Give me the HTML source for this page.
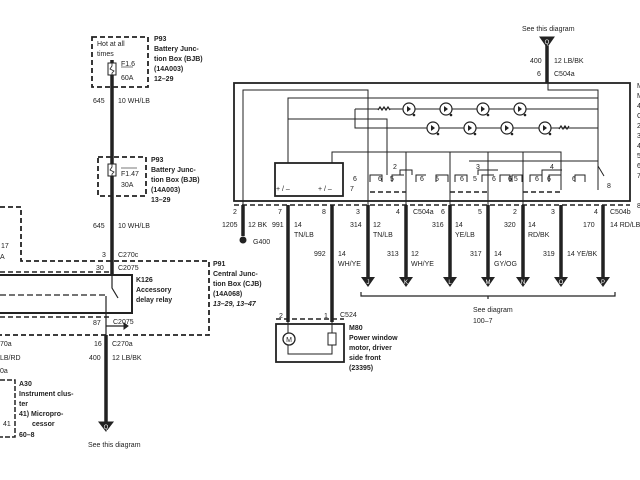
<!DOCTYPE html>
<html><head><meta charset="utf-8"><style>
html,body{margin:0;padding:0;background:#fff;}
svg{display:block}
text{font-family:"Liberation Sans",sans-serif;font-size:7px;fill:#222}
.b{font-weight:bold}
</style></head><body>
<svg width="640" height="480" viewBox="0 0 640 480" xmlns="http://www.w3.org/2000/svg">
<g fill="none" stroke="#222">
<rect x="92" y="37" width="56" height="50" stroke-width="1.8" stroke-dasharray="5,3"/>
<rect x="98" y="157" width="48" height="39" stroke-width="1.8" stroke-dasharray="5,3"/>
<line x1="112" y1="60" x2="112" y2="275" stroke-width="3.5"/>
<rect x="108" y="63" width="8" height="12" stroke-width="1" fill="#fff"/>
<path d="M112 63v3l-2 3 4 2-2 2v2" stroke-width="0.8"/>
<rect x="108" y="164" width="8" height="12" stroke-width="1" fill="#fff"/>
<path d="M112 164v3l-2 3 4 2-2 2v2" stroke-width="0.8"/>
<line x1="121" y1="67" x2="133" y2="67" stroke-width="0.6"/>
<line x1="121" y1="168" x2="137" y2="168" stroke-width="0.6"/>
<path d="M0 207H21V261H209V335H0" stroke-width="1.8" stroke-dasharray="5,3"/>
<line x1="0" y1="272" x2="112" y2="272" stroke-width="1.5" stroke-dasharray="5,3"/>
<rect x="-2" y="275" width="134" height="38" stroke-width="2"/>
<line x1="0" y1="295" x2="105" y2="295" stroke-width="1.2" stroke-dasharray="6,3"/>
<line x1="0" y1="317" x2="110" y2="317" stroke-width="1.5" stroke-dasharray="5,3"/>
<path d="M112 275v13l6 10" stroke-width="1.2"/>
<line x1="106" y1="296" x2="106" y2="335" stroke-width="1.2"/>
<path d="M106 326h20" stroke-width="1.2"/><path d="M124 323l4 3-4 3z" fill="#222"/>
<line x1="106" y1="335" x2="106" y2="425" stroke-width="3.5"/>
<path d="M99 422h14l-7 9z" fill="#222"/>
<path d="M0 380H15V437H0" stroke-width="1.5" stroke-dasharray="5,2"/>
<rect x="234" y="83" width="396" height="118" stroke-width="1.8"/>
<line x1="234" y1="205" x2="630" y2="205" stroke-width="1.5" stroke-dasharray="5,3"/>
<line x1="547" y1="45" x2="547" y2="83" stroke-width="3.5"/>
<path d="M540 37h14l-7 10z" fill="#222"/>
<path d="M548 83v7h50v76l6 10" stroke-width="1"/>
<g stroke-width="1">
<path d="M243 205V90H368V205"/>
<path d="M288 163V98H598"/>
<path d="M288 119H387V175"/>
<path d="M355 109H598M355 109V128H598"/>
<path d="M332 163V152H561V190"/>
<path d="M469 161H598V190"/>
<path d="M406 152V205M450 152V205M488 152V205M523 152V205"/>
<path d="M598 90V166"/>
</g>
<rect x="275" y="163" width="68" height="33" stroke-width="1.8"/>
<g stroke-width="1.2">
<circle cx="409" cy="109" r="6" fill="#fff"/><circle cx="446" cy="109" r="6" fill="#fff"/>
<circle cx="483" cy="109" r="6" fill="#fff"/><circle cx="520" cy="109" r="6" fill="#fff"/>
<circle cx="433" cy="128" r="6" fill="#fff"/><circle cx="470" cy="128" r="6" fill="#fff"/>
<circle cx="507" cy="128" r="6" fill="#fff"/><circle cx="545" cy="128" r="6" fill="#fff"/>
<path d="M378 110l2-3 2 3 2-3 2 3 2-3 2 3" fill="#fff"/>
<path d="M559 129l2-3 2 3 2-3 2 3 2-3" fill="#fff"/>
</g>
<g fill="#222" stroke="none">
<path d="M407 106v6l4-3z"/><path d="M444 106v6l4-3z"/><path d="M481 106v6l4-3z"/><path d="M518 106v6l4-3z"/>
<path d="M431 125v6l4-3z"/><path d="M468 125v6l4-3z"/><path d="M505 125v6l4-3z"/><path d="M543 125v6l4-3z"/>
<circle cx="414" cy="115" r="1.3"/><circle cx="451" cy="115" r="1.3"/><circle cx="488" cy="115" r="1.3"/><circle cx="525" cy="115" r="1.3"/>
<circle cx="438" cy="134" r="1.3"/><circle cx="475" cy="134" r="1.3"/><circle cx="512" cy="134" r="1.3"/><circle cx="550" cy="134" r="1.3"/>
</g>
<g stroke-width="1">
<path d="M370 182v-7h12v7M392 182v-7h12M400 175v-5h12v5M416 182v-7h10"/>
<path d="M436 182v-7h12v7M455 182v-7h12v7M478 175v-5h20M482 182v-7h12M500 182v-7h10v7"/>
<path d="M512 182v-7h10v7M530 182v-7h12v7M542 175v-5h20M549 182v-7h12v7M575 182v-7h10v7"/>
</g>
<g stroke-width="1.5" stroke-dasharray="5,3">
<line x1="370" y1="192" x2="406" y2="192"/><line x1="450" y1="192" x2="488" y2="192"/><line x1="523" y1="192" x2="561" y2="192"/>
</g>
<g stroke-width="3.5">
<line x1="243" y1="205" x2="243" y2="236"/>
<line x1="288" y1="205" x2="288" y2="322"/>
<line x1="332" y1="205" x2="332" y2="322"/>
<line x1="368" y1="205" x2="368" y2="277"/><line x1="406" y1="205" x2="406" y2="277"/>
<line x1="450" y1="205" x2="450" y2="277"/><line x1="488" y1="205" x2="488" y2="277"/>
<line x1="523" y1="205" x2="523" y2="277"/><line x1="561" y1="205" x2="561" y2="277"/>
<line x1="603" y1="205" x2="603" y2="277"/>
</g>
<circle cx="243" cy="240" r="3" fill="#222"/>
<g fill="#222" stroke="none">
<path d="M361 277h14l-7 10z"/><path d="M399 277h14l-7 10z"/><path d="M443 277h14l-7 10z"/>
<path d="M481 277h14l-7 10z"/><path d="M516 277h14l-7 10z"/><path d="M554 277h14l-7 10z"/><path d="M596 277h14l-7 10z"/>
</g>
<path d="M361 292v4h254v-4M488 296v3" stroke-width="1.2"/>
<line x1="276" y1="319" x2="344" y2="319" stroke-width="1.5" stroke-dasharray="5,3"/>
<rect x="276" y="324" width="68" height="38" stroke-width="1.8"/>
<path d="M288 322v32h44v-32" stroke-width="1"/>
<circle cx="289" cy="339" r="6" fill="#fff" stroke-width="1.3"/>
<rect x="328" y="333" width="8" height="12" fill="#fff" stroke-width="1"/>
</g>
<g text-anchor="middle">
<text x="289" y="342" style="fill:#222;font-size:7px">M</text>
<text x="547" y="44" style="fill:#fff;font-size:6px">Q</text>
<text x="106" y="429" style="fill:#fff;font-size:6px">Q</text>
<text x="368" y="284" style="fill:#fff;font-size:6px">J</text><text x="406" y="284" style="fill:#fff;font-size:6px">K</text>
<text x="450" y="284" style="fill:#fff;font-size:6px">L</text><text x="488" y="284" style="fill:#fff;font-size:6px">M</text>
<text x="523" y="284" style="fill:#fff;font-size:6px">N</text><text x="561" y="284" style="fill:#fff;font-size:6px">O</text>
<text x="603" y="284" style="fill:#fff;font-size:6px">P</text>
</g>
<text x="97" y="46">Hot at all</text><text x="97" y="56">times</text>
<text x="121" y="66">F1.6</text><text x="121" y="80">60A</text>
<g class="b"><text x="154" y="41">P93</text><text x="154" y="51">Battery Junc-</text><text x="154" y="61">tion Box (BJB)</text><text x="154" y="71">(14A003)</text><text x="154" y="81">12–29</text></g>
<text x="93" y="103">645</text><text x="118" y="103">10 WH/LB</text>
<text x="121" y="176">F1.47</text><text x="121" y="187">30A</text>
<g class="b"><text x="151" y="162">P93</text><text x="151" y="172">Battery Junc-</text><text x="151" y="182">tion Box (BJB)</text><text x="151" y="192">(14A003)</text><text x="151" y="202">13–29</text></g>
<text x="93" y="228">645</text><text x="118" y="228">10 WH/LB</text>
<text x="102" y="257">3</text><text x="118" y="257">C270c</text>
<text x="1" y="248">17</text><text x="0" y="259">A</text>
<text x="96" y="270">30</text><text x="118" y="270">C2075</text>
<g class="b"><text x="136" y="282">K126</text><text x="136" y="292">Accessory</text><text x="136" y="302">delay relay</text>
<text x="213" y="266">P91</text><text x="213" y="276">Central Junc-</text><text x="213" y="286">tion Box (CJB)</text><text x="213" y="296">(14A068)</text><text x="213" y="306" style="font-style:italic">13–29, 13–47</text></g>
<text x="93" y="325">87</text><text x="113" y="324">C2075</text>
<text x="94" y="346">16</text><text x="112" y="346">C270a</text>
<text x="89" y="360">400</text><text x="112" y="360">12 LB/BK</text>
<text x="0" y="346">70a</text><text x="0" y="360">LB/RD</text><text x="0" y="373">0a</text>
<g class="b"><text x="19" y="386">A30</text><text x="19" y="396">Instrument clus-</text><text x="19" y="406">ter</text><text x="19" y="416">41) Micropro-</text><text x="32" y="426">cessor</text><text x="19" y="437">60–8</text></g>
<text x="3" y="426">41</text>
<text x="88" y="447">See this diagram</text>
<text x="522" y="31">See this diagram</text>
<text x="530" y="63">400</text><text x="554" y="63">12 LB/BK</text>
<text x="537" y="76">6</text><text x="554" y="76">C504a</text>
<text x="276" y="191">+ / –</text><text x="318" y="191">+ / –</text><text x="350" y="191">7</text>
<text x="353" y="181">6</text><text x="378" y="181">6</text><text x="390" y="181">5</text><text x="393" y="169">2</text><text x="420" y="181">6</text>
<text x="435" y="181">5</text><text x="460" y="181">6</text><text x="473" y="181">5</text><text x="476" y="169">3</text><text x="492" y="181">6</text><text x="508" y="181">6 5</text>
<text x="535" y="181">6</text><text x="547" y="181">6</text><text x="550" y="169">4</text><text x="572" y="181">6</text><text x="607" y="188">8</text>
<text x="233" y="214">2</text><text x="278" y="214">7</text><text x="322" y="214">8</text><text x="356" y="214">3</text><text x="396" y="214">4</text>
<text x="413" y="214">C504a</text><text x="441" y="214">6</text><text x="478" y="214">5</text><text x="513" y="214">2</text><text x="551" y="214">3</text><text x="594" y="214">4</text><text x="610" y="214">C504b</text>
<text x="222" y="227">1205</text><text x="248" y="227">12 BK</text><text x="272" y="227">991</text><text x="294" y="227">14</text><text x="294" y="237">TN/LB</text>
<text x="350" y="227">314</text><text x="373" y="227">12</text><text x="373" y="237">TN/LB</text>
<text x="432" y="227">316</text><text x="455" y="227">14</text><text x="455" y="237">YE/LB</text>
<text x="504" y="227">320</text><text x="528" y="227">14</text><text x="528" y="237">RD/BK</text>
<text x="583" y="227">170</text><text x="610" y="227">14 RD/LB</text>
<text x="253" y="244">G400</text>
<text x="314" y="256">992</text><text x="338" y="256">14</text><text x="338" y="266">WH/YE</text>
<text x="387" y="256">313</text><text x="411" y="256">12</text><text x="411" y="266">WH/YE</text>
<text x="470" y="256">317</text><text x="494" y="256">14</text><text x="494" y="266">GY/OG</text>
<text x="543" y="256">319</text><text x="567" y="256">14 YE/BK</text>
<text x="473" y="312">See diagram</text><text x="473" y="323">100–7</text>
<text x="279" y="318">2</text><text x="324" y="318">1</text><text x="340" y="317">C524</text>
<g class="b"><text x="349" y="330">M80</text><text x="349" y="340">Power window</text><text x="349" y="350">motor, driver</text><text x="349" y="360">side front</text><text x="349" y="370">(23395)</text></g>
<g><text x="637" y="88">M</text><text x="637" y="98">M</text><text x="637" y="108">4</text><text x="637" y="118">G</text><text x="637" y="128">2</text><text x="637" y="138">3</text><text x="637" y="148">4</text><text x="637" y="158">5</text><text x="637" y="168">6</text><text x="637" y="178">7</text><text x="637" y="208">8</text></g>
</svg>
</body></html>
